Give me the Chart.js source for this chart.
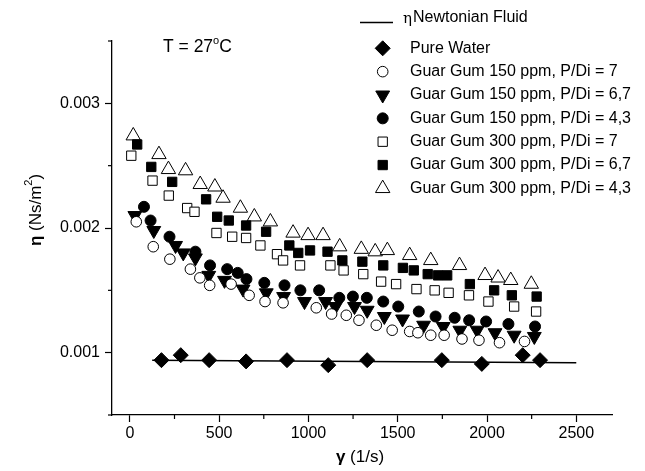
<!DOCTYPE html>
<html>
<head>
<meta charset="utf-8">
<script src="https://cdn.jsdelivr.net/npm/chart.js@4.4.0/dist/chart.umd.min.js"></script>
<style>
  html, body { margin: 0; padding: 0; background: #fff; }
</style>
</head>
<body>
<canvas id="chart" width="645" height="471"></canvas>
<script>
// Viscosity vs shear rate, T = 27 C
const xMajor = [0, 500, 1000, 1500, 2000, 2500];
const xMinor = [250, 750, 1250, 1750, 2250];
const yMajor = [0.001, 0.002, 0.003];
const yMinor = [0.0005, 0.0015, 0.0025, 0.0035];

const newtX = [125, 2500];
const newtY = [0.00094, 0.00092];

const waterX = [177, 285, 444, 651, 880, 1111, 1329, 1747, 1971, 2200, 2297];
const waterY = [0.00094, 0.00098, 0.00094, 0.00093, 0.00094, 0.00090, 0.00094, 0.00094, 0.00091, 0.00098, 0.00094];

const gg150p7X = [36, 131, 224, 339, 392, 447, 567, 668, 757, 858, 1044, 1130, 1212, 1283, 1380, 1469, 1567, 1613, 1685, 1760, 1860, 1955, 2070, 2210];
const gg150p7Y = [0.00205, 0.00185, 0.00175, 0.00167, 0.00160, 0.00154, 0.00155, 0.00146, 0.00141, 0.00140, 0.00136, 0.00131, 0.00130, 0.00126, 0.00122, 0.00118, 0.00117, 0.00116, 0.00114, 0.00114, 0.00111, 0.00110, 0.00108, 0.00109];

const gg150p67X = [28, 134, 256, 299, 367, 442, 530, 634, 764, 861, 978, 1096, 1151, 1258, 1329, 1425, 1527, 1645, 1755, 1848, 1945, 2045, 2152, 2265];
const gg150p67Y = [0.00210, 0.00198, 0.00186, 0.00180, 0.00176, 0.00162, 0.00158, 0.00151, 0.00148, 0.00145, 0.00141, 0.00141, 0.00137, 0.00137, 0.00134, 0.00129, 0.00127, 0.00122, 0.00121, 0.00118, 0.00118, 0.00116, 0.00114, 0.00113];

const gg150p43X = [79, 116, 222, 367, 449, 545, 604, 653, 753, 866, 955, 1060, 1173, 1249, 1327, 1419, 1503, 1618, 1712, 1819, 1900, 1995, 2120, 2269];
const gg150p43Y = [0.00217, 0.00206, 0.00193, 0.00181, 0.00170, 0.00167, 0.00164, 0.00159, 0.00156, 0.00154, 0.00150, 0.00150, 0.00144, 0.00145, 0.00144, 0.00141, 0.00137, 0.00133, 0.00129, 0.00128, 0.00126, 0.00125, 0.00123, 0.00121];

const gg300p7X = [8, 127, 218, 321, 362, 485, 573, 651, 731, 824, 858, 953, 1123, 1197, 1307, 1407, 1491, 1605, 1707, 1785, 1899, 2008, 2152, 2275];
const gg300p7Y = [0.00258, 0.00238, 0.00226, 0.00216, 0.00213, 0.00196, 0.00193, 0.00192, 0.00186, 0.00179, 0.00174, 0.00170, 0.00170, 0.00166, 0.00163, 0.00157, 0.00155, 0.00151, 0.00150, 0.00148, 0.00146, 0.00141, 0.00137, 0.00133];

const gg300p67X = [41, 120, 237, 427, 489, 554, 651, 763, 893, 943, 1009, 1107, 1190, 1302, 1419, 1529, 1590, 1668, 1726, 1777, 1904, 2040, 2139, 2278];
const gg300p67Y = [0.00267, 0.00249, 0.00237, 0.00223, 0.00209, 0.00206, 0.00202, 0.00197, 0.00186, 0.00180, 0.00182, 0.00181, 0.00174, 0.00173, 0.00170, 0.00168, 0.00166, 0.00163, 0.00162, 0.00162, 0.00155, 0.00150, 0.00146, 0.00145];

const gg300p43X = [19, 163, 216, 312, 394, 476, 522, 619, 697, 787, 914, 998, 1082, 1175, 1296, 1374, 1442, 1567, 1685, 1846, 1989, 2062, 2133, 2248];
const gg300p43Y = [0.00274, 0.00259, 0.00247, 0.00246, 0.00235, 0.00233, 0.00224, 0.00216, 0.00209, 0.00205, 0.00196, 0.00194, 0.00194, 0.00185, 0.00183, 0.00181, 0.00182, 0.00178, 0.00174, 0.00170, 0.00162, 0.00160, 0.00158, 0.00155];

const legendLabels = [
  'Pure Water',
  'Guar Gum 150 ppm, P/Di = 7',
  'Guar Gum 150 ppm, P/Di = 6,7',
  'Guar Gum 150 ppm, P/Di = 4,3',
  'Guar Gum 300 ppm, P/Di = 7',
  'Guar Gum 300 ppm, P/Di = 6,7',
  'Guar Gum 300 ppm, P/Di = 4,3'
];

const FONT_FAMILY = '"Liberation Sans", Arial, sans-serif';

function pts(xs, ys) {
  return xs.map((v, i) => ({ x: v, y: ys[i] }));
}

// marker styles, in legend order
const markers = [
  { data: pts(waterX, waterY), style: 'rectRot', radius: 7.5, fill: '#000', rot: 0 },
  { data: pts(gg150p7X, gg150p7Y), style: 'circle', radius: 5.3, fill: '#fff', rot: 0 },
  { data: pts(gg150p67X, gg150p67Y), style: 'triangle', radius: 8, fill: '#000', rot: 180 },
  { data: pts(gg150p43X, gg150p43Y), style: 'circle', radius: 5.5, fill: '#000', rot: 0 },
  { data: pts(gg300p7X, gg300p7Y), style: 'rect', radius: 6.6, fill: '#fff', rot: 0 },
  { data: pts(gg300p67X, gg300p67Y), style: 'rect', radius: 6.6, fill: '#000', rot: 0 },
  { data: pts(gg300p43X, gg300p43Y), style: 'triangle', radius: 8.3, fill: '#fff', rot: 0 }
];

const datasets = [{
  label: 'Newtonian Fluid',
  data: pts(newtX, newtY),
  showLine: true,
  borderColor: '#000',
  borderWidth: 1.5,
  pointRadius: 0
}];
markers.forEach((m, i) => {
  datasets.push({
    label: legendLabels[i],
    data: m.data,
    showLine: false,
    pointStyle: m.style,
    pointRadius: m.radius,
    pointRotation: m.rot,
    pointBackgroundColor: m.fill,
    pointBorderColor: '#000',
    pointBorderWidth: 1
  });
});

// draw a text made of pieces: [text, font, dy]
function drawPieces(ctx, pieces, x, y, align) {
  let total = 0;
  pieces.forEach(p => { ctx.font = p[1]; total += ctx.measureText(p[0]).width; });
  let cx = align === 'center' ? x - total / 2 : x;
  pieces.forEach(p => {
    ctx.font = p[1];
    ctx.fillText(p[0], cx, y + (p[2] || 0));
    cx += ctx.measureText(p[0]).width;
  });
}

const decorPlugin = {
  id: 'decor',
  afterDraw(chart) {
    const ctx = chart.ctx;
    const xs = chart.scales.x, ys = chart.scales.y;
    const area = chart.chartArea;
    ctx.save();
    ctx.strokeStyle = '#000';
    ctx.fillStyle = '#000';
    ctx.lineWidth = 1.2;

    // minor ticks
    xMinor.forEach(v => {
      const px = xs.getPixelForValue(v);
      ctx.beginPath(); ctx.moveTo(px, area.bottom); ctx.lineTo(px, area.bottom + 4); ctx.stroke();
    });
    yMinor.forEach(v => {
      const py = ys.getPixelForValue(v);
      ctx.beginPath(); ctx.moveTo(area.left, py); ctx.lineTo(area.left - 4, py); ctx.stroke();
    });

    ctx.textBaseline = 'middle';
    ctx.textAlign = 'left';

    // temperature label
    drawPieces(ctx, [
      ['T = 27', '17.5px ' + FONT_FAMILY, 0],
      ['o', '11px ' + FONT_FAMILY, -6],
      ['C', '17.5px ' + FONT_FAMILY, 0]
    ], 163, 47, 'left');

    // x title
    drawPieces(ctx, [
      ['\u03b3', 'bold 17px ' + FONT_FAMILY, 0],
      [' (1/s)', '17px ' + FONT_FAMILY, 0]
    ], 360, 457, 'center');

    // y title, rotated
    ctx.save();
    ctx.translate(36, 210);
    ctx.rotate(-Math.PI / 2);
    drawPieces(ctx, [
      ['\u03b7', 'bold 17px ' + FONT_FAMILY, 0],
      [' (Ns/m', '17px ' + FONT_FAMILY, 0],
      ['2', '11px ' + FONT_FAMILY, -7],
      [')', '17px ' + FONT_FAMILY, 0]
    ], 0, 0, 'center');
    ctx.restore();

    // legend
    ctx.lineWidth = 1.5;
    ctx.beginPath(); ctx.moveTo(360, 22.5); ctx.lineTo(393, 22.5); ctx.stroke();
    ctx.font = '15px "DejaVu Serif", serif';
    ctx.fillText('\u03b7', 403, 19);
    ctx.font = '16px ' + FONT_FAMILY;
    ctx.fillText('Newtonian Fluid', 413, 18);

    markers.forEach((m, i) => {
      const ly = 48.3 + i * 23.35;
      ctx.fillStyle = m.fill;
      ctx.strokeStyle = '#000';
      ctx.lineWidth = 1;
      Chart.helpers.drawPoint(ctx, {
        pointStyle: m.style, rotation: m.rot, radius: m.radius, borderWidth: 1
      }, 382.7, ly);
      ctx.fillStyle = '#000';
      ctx.font = '16px ' + FONT_FAMILY;
      ctx.fillText(legendLabels[i], 410, ly);
    });
    ctx.restore();
  }
};

new Chart(document.getElementById('chart'), {
  type: 'scatter',
  data: { datasets: datasets },
  options: {
    responsive: false,
    animation: false,
    devicePixelRatio: 1,
    layout: { padding: { top: 41, right: 33, left: 0, bottom: 0 } },
    plugins: {
      legend: { display: false },
      tooltip: { enabled: false }
    },
    scales: {
      x: {
        type: 'linear',
        min: -100,
        max: 2700,
        afterBuildTicks: s => { s.ticks = xMajor.map(v => ({ value: v })); },
        afterFit: s => { s.height = 56; },
        grid: { drawOnChartArea: false, tickLength: 7, tickColor: '#000', tickWidth: 1.2 },
        border: { color: '#000', width: 1.3 },
        ticks: {
          color: '#000',
          padding: 2,
          maxRotation: 0,
          font: { family: FONT_FAMILY, size: 16 },
          callback: v => String(v)
        }
      },
      y: {
        type: 'linear',
        min: 0.0005,
        max: 0.0035,
        afterBuildTicks: s => { s.ticks = yMajor.map(v => ({ value: v })); },
        afterFit: s => { s.width = 112; },
        grid: { drawOnChartArea: false, tickLength: 7, tickColor: '#000', tickWidth: 1.2 },
        border: { color: '#000', width: 1.3 },
        ticks: {
          color: '#000',
          padding: 5,
          font: { family: FONT_FAMILY, size: 16 },
          callback: v => v.toFixed(3)
        }
      }
    }
  },
  plugins: [decorPlugin]
});
</script>
</body>
</html>
